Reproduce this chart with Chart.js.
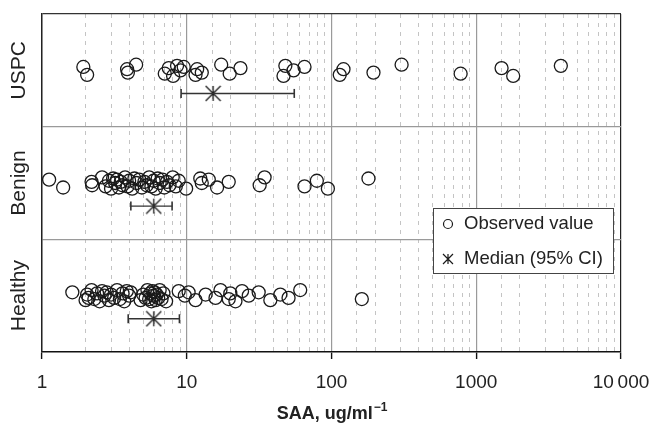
<!DOCTYPE html>
<html>
<head>
<meta charset="utf-8">
<script src="https://cdn.jsdelivr.net/npm/chart.js@4.4.0/dist/chart.umd.min.js"></script>
<style>
  html, body { margin: 0; padding: 0; background: #fff; }
</style>
</head>
<body>
<canvas id="chart" width="654" height="424"></canvas>
<script>
Chart.defaults.font.family = "'Liberation Sans', Arial, Helvetica, sans-serif";
Chart.defaults.color = "#222";

// grupos de abajo hacia arriba
var groups = ["Healthy", "Benign", "USPC"];

// SAA observada por grupo (ug/ml)
var healthy = [1.62, 2.0, 2.05, 2.1, 2.2, 2.3, 2.4, 2.5, 2.6, 2.7, 2.8, 2.9, 3.0, 3.15, 3.3, 3.45, 3.6, 3.7,
  3.85, 4.0, 4.1, 4.8, 5.0, 5.2, 5.35, 5.5, 5.6, 5.7, 5.8, 5.9, 6.0, 6.1, 6.2, 6.35, 6.5, 6.7, 6.9, 7.2,
  8.8, 9.7, 10.3, 11.5, 13.5, 15.8, 17.1, 19.5, 20.0, 21.7, 24.1, 26.8, 31.4, 37.8, 44.3, 50.5, 60.8, 162];
var benign = [1.12, 1.40, 2.20, 2.22, 2.6, 2.75, 2.9, 3.0, 3.1, 3.2, 3.3, 3.4, 3.5, 3.6, 3.75, 3.9, 4.0, 4.2,
  4.35, 4.5, 4.7, 4.9, 5.1, 5.3, 5.5, 5.7, 5.9, 6.1, 6.3, 6.5, 6.8, 7.0, 7.3, 7.6, 8.0, 8.4, 8.8,
  9.9, 12.4, 12.7, 14.2, 16.2, 19.5, 31.9, 34.5, 65.1, 79.2, 94.4, 180];
var uspc = [1.93, 2.05, 3.87, 3.92, 4.47, 7.05, 7.51, 8.05, 8.57, 9.05, 9.53, 11.5, 11.8, 12.7, 17.3, 19.8,
  23.5, 46.6, 48, 54.7, 65.1, 114, 121, 195, 305, 780, 1496, 1800, 3840];

// mediana e IC 95% (mismo orden que groups)
var medians = [5.92, 5.92, 15.2];
var ciLow = [3.94, 4.11, 9.14];
var ciHigh = [8.9, 7.92, 55.3];

var xTicks = [1, 10, 100, 1000, 10000];
var xTickLabels = ["1", "10", "100", "1000", "10\u2009000"];

// desplazamiento vertical para que no se tapen los circulos
var jitter = [0.03, -0.04, 0.01, -0.02, 0.05, -0.03, 0.02, -0.05, 0.04, 0.0];

function spread(values, g) {
  return values.map(function (v, i) {
    return { x: v, y: g + 0.5 + jitter[i % jitter.length] };
  });
}

function isDecade(v) {
  var l = Math.log10(v);
  return Math.abs(l - Math.round(l)) < 1e-9;
}

// asterisco: linea vertical + X hasta las esquinas
function asterisk(size, lw) {
  var c = document.createElement("canvas");
  c.width = size;
  c.height = size;
  var g = c.getContext("2d");
  var h = size / 2, r = h - 1;
  g.strokeStyle = "#1a1a1a";
  g.lineWidth = lw;
  g.beginPath();
  g.moveTo(h, h - r); g.lineTo(h, h + r);
  g.moveTo(h - r, h - r); g.lineTo(h + r, h + r);
  g.moveTo(h + r, h - r); g.lineTo(h - r, h + r);
  g.stroke();
  return c;
}
var star = asterisk(17, 1.3);
var starSmall = asterisk(12, 1.2);

var datasets = [];
[healthy, benign, uspc].forEach(function (vals, g) {
  datasets.push({
    type: "scatter",
    label: groups[g],
    data: spread(vals, g),
    pointStyle: "circle",
    pointRadius: 6.5,
    borderWidth: 1.3,
    borderColor: "#1a1a1a",
    backgroundColor: "rgba(0,0,0,0)"
  });
  datasets.push({
    type: "line",
    label: "CI " + groups[g],
    data: [{ x: ciLow[g], y: g + 0.295 }, { x: ciHigh[g], y: g + 0.295 }],
    borderColor: "#333",
    borderWidth: 1.4,
    pointStyle: "line",
    pointRotation: 90,
    pointRadius: 4.5,
    pointBorderWidth: 1.6,
    pointBorderColor: "#333",
    fill: false
  });
});
datasets.push({
  type: "scatter",
  label: "Median",
  data: medians.map(function (m, g) { return { x: m, y: g + 0.295 }; }),
  pointStyle: star,
  pointRadius: 8
});

// etiquetas de grupo, titulo del eje x y leyenda
var extras = {
  id: "extras",
  afterDraw: function (chart) {
    var ctx = chart.ctx, y = chart.scales.y, area = chart.chartArea;
    ctx.save();
    ctx.fillStyle = "#222";
    ctx.font = "21px 'Liberation Sans', Arial, sans-serif";
    ctx.textAlign = "center";
    ctx.textBaseline = "middle";
    groups.forEach(function (name, g) {
      ctx.save();
      ctx.translate(19, y.getPixelForValue(g + 0.5));
      ctx.rotate(-Math.PI / 2);
      ctx.fillText(name, 0, 0);
      ctx.restore();
    });

    // SAA, ug/ml^-1
    var main = "SAA, ug/ml", sup = "\u22121";
    ctx.font = "bold 18px 'Liberation Sans', Arial, sans-serif";
    var w1 = ctx.measureText(main).width;
    ctx.font = "bold 12px 'Liberation Sans', Arial, sans-serif";
    var w2 = ctx.measureText(sup).width;
    var x0 = (area.left + area.right) / 2 - (w1 + w2) / 2;
    ctx.textAlign = "left";
    ctx.textBaseline = "alphabetic";
    ctx.font = "bold 18px 'Liberation Sans', Arial, sans-serif";
    ctx.fillText(main, x0, 419);
    ctx.font = "bold 12px 'Liberation Sans', Arial, sans-serif";
    ctx.fillText(sup, x0 + w1 + 1, 411);

    // leyenda
    var bx = 433.5, by = 208.5, bw = 180, bh = 65;
    ctx.fillStyle = "#fff";
    ctx.fillRect(bx, by, bw, bh);
    ctx.strokeStyle = "#444";
    ctx.lineWidth = 1;
    ctx.strokeRect(bx, by, bw, bh);
    ctx.strokeStyle = "#1a1a1a";
    ctx.lineWidth = 1.2;
    ctx.beginPath();
    ctx.arc(448, 224, 4.5, 0, Math.PI * 2);
    ctx.stroke();
    ctx.drawImage(starSmall, 448 - 6, 259 - 6);
    ctx.fillStyle = "#222";
    ctx.font = "18.5px 'Liberation Sans', Arial, sans-serif";
    ctx.textBaseline = "middle";
    ctx.fillText("Observed value", 464, 224);
    ctx.fillText("Median (95% CI)", 464, 259);
    ctx.restore();
  }
};

new Chart("chart", {
  data: { datasets: datasets },
  options: {
    responsive: false,
    animation: false,
    events: [],
    layout: { padding: { top: 14, right: 33, left: 0, bottom: 0 } },
    plugins: {
      legend: { display: false },
      tooltip: { enabled: false }
    },
    scales: {
      x: {
        type: "logarithmic",
        position: "bottom",
        min: 1,
        max: 10000,
        afterFit: function (scale) {
          scale.height = 72;
          scale.paddingLeft = 0;
          scale.paddingRight = 0;
        },
        border: { color: "#111", width: 1.6 },
        grid: {
          color: function (c) {
            var v = c.tick.value;
            if (!isDecade(v)) return "rgba(0,0,0,0)";
            return (v === 1 || v === 10000) ? "#222" : "#9a9a9a";
          },
          lineWidth: 1.2,
          drawTicks: true,
          tickLength: 7,
          tickWidth: 1.4,
          tickColor: function (c) {
            return isDecade(c.tick.value) ? "#111" : "rgba(0,0,0,0)";
          }
        },
        ticks: {
          autoSkip: false,
          maxRotation: 0,
          padding: 12,
          color: "#222",
          font: { size: 19 },
          callback: function (v) {
            var i = xTicks.indexOf(v);
            return i >= 0 ? xTickLabels[i] : "";
          }
        }
      },
      xMinor: {
        type: "logarithmic",
        position: "top",
        min: 1,
        max: 10000,
        border: { display: false, dash: [4, 5] },
        grid: {
          drawTicks: false,
          lineWidth: 1,
          color: function (c) {
            return isDecade(c.tick.value) ? "rgba(0,0,0,0)" : "#c4c4c4";
          }
        },
        ticks: { display: false, autoSkip: false }
      },
      y: {
        type: "linear",
        min: 0,
        max: 3,
        afterFit: function (scale) { scale.width = 42; },
        afterBuildTicks: function (scale) {
          scale.ticks = [0, 1, 2, 3].map(function (v) { return { value: v }; });
        },
        border: { color: "#222", width: 1.4 },
        grid: {
          drawTicks: false,
          lineWidth: 1.2,
          color: function (c) {
            var v = c.tick.value;
            if (v === 3) return "#333";
            if (v === 0) return "rgba(0,0,0,0)";
            return "#9a9a9a";
          }
        },
        ticks: { display: false }
      }
    }
  },
  plugins: [extras]
});
</script>
</body>
</html>
